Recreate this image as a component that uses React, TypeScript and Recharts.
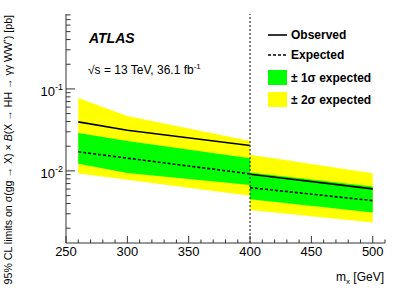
import { ComposedChart, Area, Line, XAxis, YAxis, ReferenceLine } from 'recharts'

const FONT = '"Liberation Sans", Arial, Helvetica, sans-serif'

// mass points, left analysis region (260-400) and right one (400-500)
const massLow = [260, 300, 400]
const obsLow = [0.0396, 0.0313, 0.0204]
const expLow = [0.0171, 0.0143, 0.0092]
const minus1Low = [0.0122, 0.00946, 0.00675]
const plus1Low = [0.029, 0.0232, 0.0143]
const minus2Low = [0.0093, 0.0078, 0.00496]
const plus2Low = [0.0776, 0.0469, 0.0232]

const massHigh = [400, 500]
const obsHigh = [0.00912, 0.00603]
const expHigh = [0.00625, 0.00434]
const minus1High = [0.00452, 0.0031]
const plus1High = [0.00953, 0.00644]
const minus2High = [0.00334, 0.00234]
const plus2High = [0.0157, 0.00937]

const xTicks = [250, 260, 270, 280, 290, 300, 310, 320, 330, 340, 350, 360, 370, 380, 390, 400, 410, 420, 430, 440, 450, 460, 470, 480, 490, 500, 510]
const yTicks = [
  0.002, 0.003, 0.004, 0.005, 0.006, 0.007, 0.008, 0.009,
  0.01, 0.02, 0.03, 0.04, 0.05, 0.06, 0.07, 0.08, 0.09,
  0.1, 0.2, 0.3, 0.4, 0.5, 0.6, 0.7, 0.8,
]

const lowRows = massLow.map((m, i) => ({
  m,
  obs: obsLow[i],
  exp: expLow[i],
  s1: [minus1Low[i], plus1Low[i]],
  s2: [minus2Low[i], plus2Low[i]],
}))
const highRows = massHigh.map((m, i) => ({
  m,
  obs: obsHigh[i],
  exp: expHigh[i],
  s1: [minus1High[i], plus1High[i]],
  s2: [minus2High[i], plus2High[i]],
}))

const AX = '#333'

function isDecade(v: number) {
  const l = Math.log10(v)
  return Math.abs(l - Math.round(l)) < 1e-6
}

function LeftTick(props: any) {
  const { x, y, payload } = props
  const major = isDecade(payload.value)
  const exp = Math.round(Math.log10(payload.value))
  return (
    <g>
      <line x1={x} x2={x + (major ? 9 : 4.5)} y1={y} y2={y} stroke={AX} />
      {major && (
        <text x={x - 3} y={y + 7} textAnchor="end" fontSize={13} fontFamily={FONT} fill="#000">
          10<tspan dy={-6} fontSize={9}>{exp}</tspan>
        </text>
      )}
    </g>
  )
}

function RightTick(props: any) {
  const { x, y, payload } = props
  const major = isDecade(payload.value)
  return <line x1={x} x2={x - (major ? 9 : 4.5)} y1={y} y2={y} stroke={AX} />
}

function BottomTick(props: any) {
  const { x, y, payload } = props
  const major = payload.value % 50 === 0
  return (
    <g>
      <line x1={x} x2={x} y1={y} y2={y - (major ? 7 : 3.5)} stroke={AX} />
      {major && (
        <text x={x} y={y + 13} textAnchor="middle" fontSize={13} fontFamily={FONT} fill="#000">
          {payload.value}
        </text>
      )}
    </g>
  )
}

function TopTick(props: any) {
  const { x, y, payload } = props
  const major = payload.value % 50 === 0
  return <line x1={x} x2={x} y1={y} y2={y + (major ? 7 : 3.5)} stroke={AX} />
}

export default function App() {
  return (
    <div style={{ position: 'relative', width: 407, height: 292, background: '#fff' }}>
      <style>{'body{margin:0}'}</style>
      <ComposedChart width={407} height={292} margin={{ top: 14, right: 22, bottom: 0, left: 0 }}>
        <XAxis
          xAxisId={0}
          dataKey="m"
          type="number"
          domain={[250, 510]}
          allowDataOverflow
          ticks={xTicks}
          interval={0}
          tickSize={0}
          tickMargin={0}
          tickLine={false}
          tick={(p: any) => <BottomTick {...p} />}
          stroke={AX}
          height={49}
        />
        <XAxis
          xAxisId="top"
          orientation="top"
          dataKey="m"
          type="number"
          domain={[250, 510]}
          allowDataOverflow
          ticks={xTicks}
          interval={0}
          tickSize={0}
          tickMargin={0}
          tickLine={false}
          tick={(p: any) => <TopTick {...p} />}
          stroke={AX}
          height={0}
        />
        <YAxis
          yAxisId={0}
          type="number"
          scale="log"
          domain={[0.00132, 0.82]}
          allowDataOverflow
          ticks={yTicks}
          interval={0}
          tickSize={0}
          tickMargin={0}
          tickLine={false}
          tick={(p: any) => <LeftTick {...p} />}
          stroke={AX}
          width={66}
        />
        <YAxis
          yAxisId="right"
          orientation="right"
          type="number"
          scale="log"
          domain={[0.00132, 0.82]}
          allowDataOverflow
          ticks={yTicks}
          interval={0}
          tickSize={0}
          tickMargin={0}
          tickLine={false}
          tick={(p: any) => <RightTick {...p} />}
          stroke={AX}
          width={0}
        />
        <Area data={lowRows} dataKey="s2" type="linear" fill="#ffff00" fillOpacity={1} stroke="none" isAnimationActive={false} />
        <Area data={highRows} dataKey="s2" type="linear" fill="#ffff00" fillOpacity={1} stroke="none" isAnimationActive={false} />
        <Area data={lowRows} dataKey="s1" type="linear" fill="#00ff00" fillOpacity={1} stroke="none" isAnimationActive={false} />
        <Area data={highRows} dataKey="s1" type="linear" fill="#00ff00" fillOpacity={1} stroke="none" isAnimationActive={false} />
        <Line data={lowRows} dataKey="obs" type="linear" stroke="#000" strokeWidth={1.6} dot={false} isAnimationActive={false} />
        <Line data={highRows} dataKey="obs" type="linear" stroke="#000" strokeWidth={1.6} dot={false} isAnimationActive={false} />
        <Line data={lowRows} dataKey="exp" type="linear" stroke="#000" strokeWidth={1.6} strokeDasharray="3 2" dot={false} isAnimationActive={false} />
        <Line data={highRows} dataKey="exp" type="linear" stroke="#000" strokeWidth={1.6} strokeDasharray="3 2" dot={false} isAnimationActive={false} />
        <ReferenceLine x={400} stroke="#333" strokeDasharray="2 2" strokeWidth={1.2} />
      </ComposedChart>
      <svg width={407} height={292} style={{ position: 'absolute', left: 0, top: 0, pointerEvents: 'none' }} fontFamily={FONT}>
        <text x={89} y={43} fontSize={14} fontWeight="bold" fontStyle="italic">ATLAS</text>
        <text x={88} y={74} fontSize={12}>
          √s = 13 TeV, 36.1 fb<tspan dy={-5} fontSize={8}>-1</tspan>
        </text>
        <line x1={268} x2={287} y1={35} y2={35} stroke="#000" strokeWidth={1.6} />
        <text x={291} y={39} fontSize={12} fontWeight="bold">Observed</text>
        <line x1={268} x2={287} y1={55} y2={55} stroke="#000" strokeWidth={1.6} strokeDasharray="3 2" />
        <text x={291} y={59} fontSize={12} fontWeight="bold">Expected</text>
        <rect x={268} y={70} width={19} height={15} fill="#00ff00" />
        <text x={291} y={82} fontSize={12} fontWeight="bold">± 1σ expected</text>
        <rect x={268} y={92} width={19} height={15} fill="#ffff00" />
        <text x={291} y={104} fontSize={12} fontWeight="bold">± 2σ expected</text>
        <text x={384} y={281} fontSize={12} textAnchor="end">
          m<tspan dy={3} fontSize={8}>x</tspan><tspan dy={-3}> [GeV]</tspan>
        </text>
        <text transform="rotate(-90)" x={-15} y={12} fontSize={10.6} textAnchor="end">
          95% CL limits on σ(gg → X) × <tspan fontStyle="italic">B</tspan>(X → HH → γγ WW<tspan dy={-4} fontSize={7}>*</tspan><tspan dy={4}>) [pb]</tspan>
        </text>
      </svg>
    </div>
  )
}
